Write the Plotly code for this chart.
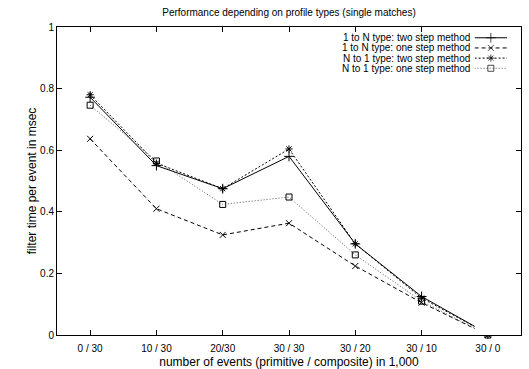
import plotly.graph_objects as go

categories = ["0 / 30", "10 / 30", "20/30", "30 / 30", "30 / 20", "30 / 10", "30 / 0"]
s1_name = "1 to N type: two step method"
s1 = [0.772, 0.550, 0.475, 0.580, 0.296, 0.125, 0.004]
s2_name = "1 to N type: one step method"
s2 = [0.637, 0.410, 0.325, 0.363, 0.224, 0.105, 0.000]
s3_name = "N to 1 type: two step method"
s3 = [0.780, 0.558, 0.475, 0.604, 0.296, 0.120, 0.004]
s4_name = "N to 1 type: one step method"
s4 = [0.746, 0.565, 0.424, 0.448, 0.260, 0.110, 0.000]
y_ticks = [0, 0.2, 0.4, 0.6, 0.8, 1]
y_ticktext = ["0", "0.2", "0.4", "0.6", "0.8", "1"]

styles = [
    dict(name=s1_name, y=s1, dash="solid", lc="black", sym="cross-thin-open", ms=7),
    dict(name=s2_name, y=s2, dash="4px,3px", lc="black", sym="x-thin-open", ms=6),
    dict(name=s3_name, y=s3, dash="2px,2px", lc="black", sym="asterisk-open", ms=6),
    dict(name=s4_name, y=s4, dash="1px,2px", lc="#555555", sym="square-open", ms=6),
]

fig = go.Figure()
for st in styles:
    fig.add_trace(go.Scatter(
        x=list(range(len(categories))), y=st["y"], mode="lines+markers",
        line=dict(color=st["lc"], width=1, dash=st["dash"]),
        marker=dict(symbol=st["sym"], size=st["ms"], color="black",
                    line=dict(color="black", width=1)),
        cliponaxis=False, showlegend=False, name=st["name"]))

# gnuplot-style key: text right-aligned, line sample to its right
key_top = 0.965
key_step = 0.033
for i, st in enumerate(styles):
    yk = key_top - i * key_step
    fig.add_trace(go.Scatter(
        x=[0.0, 0.5, 1.0], y=[yk, yk, yk], xaxis="x2", yaxis="y2",
        mode="lines+markers",
        line=dict(color=st["lc"], width=1, dash=st["dash"]),
        marker=dict(symbol=st["sym"], size=[0, st["ms"], 0], color="black",
                    line=dict(color="black", width=1)),
        showlegend=False, hoverinfo="skip"))
    fig.add_annotation(x=0.894, y=yk, xref="paper", yref="paper",
                       text=st["name"], showarrow=False, xanchor="right",
                       yanchor="middle", font=dict(size=10, color="black"))

fig.update_layout(
    width=529, height=369,
    margin=dict(l=57, r=8, t=27, b=34, autoexpand=False),
    paper_bgcolor="white", plot_bgcolor="white",
    font=dict(family="Liberation Sans, Arial, sans-serif", size=10, color="black"),
    title=dict(text="Performance depending on profile types (single matches)",
               x=0.5, xref="paper", xanchor="center", y=0.975, yanchor="top",
               font=dict(size=10)),
    xaxis=dict(range=[-0.5, 6.5], tickvals=list(range(len(categories))),
               ticktext=categories, showgrid=False, zeroline=False,
               showline=True, linecolor="black", linewidth=1, mirror="ticks",
               ticks="inside", ticklen=5, tickcolor="black",
               ticklabelstandoff=4, automargin=False,
               title=dict(text="number of events (primitive / composite) in 1,000",
                          standoff=4)),
    yaxis=dict(range=[0, 1], tickvals=y_ticks, ticktext=y_ticktext,
               showgrid=False, zeroline=False, automargin=False,
               showline=True, linecolor="black", linewidth=1, mirror="ticks",
               ticks="inside", ticklen=5, tickcolor="black",
               title=dict(text="filter time per event in msec", standoff=0)),
    xaxis2=dict(domain=[0.900, 0.970], range=[0, 1], visible=False,
                anchor="y2"),
    yaxis2=dict(domain=[0, 1], range=[0, 1], visible=False,
                anchor="x2", overlaying="y"),
)

fig.write_html("out.html",
               config={"displayModeBar": False},
               post_script="document.body.style.margin='0';"
                           "document.body.style.padding='0';")
